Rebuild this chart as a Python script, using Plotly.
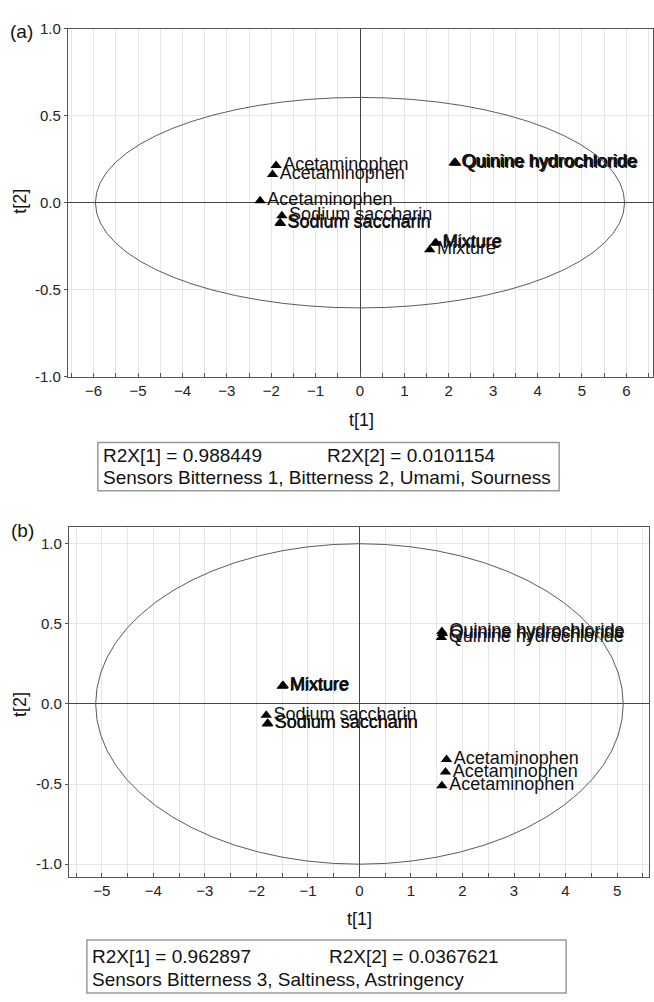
import plotly.graph_objects as go

# ---- score values, panel (a): sensors Bitterness 1, Bitterness 2, Umami, Sourness
a_names = ["Acetaminophen", "Acetaminophen", "Acetaminophen",
           "Sodium saccharin", "Sodium saccharin", "Sodium saccharin",
           "Quinine hydrochloride", "Quinine hydrochloride", "Quinine hydrochloride",
           "Mixture", "Mixture", "Mixture"]
a_t1 = [-1.89, -1.97, -2.25, -1.76, -1.80, -1.79, 2.12, 2.14, 2.16, 1.69, 1.71, 1.57]
a_t2 = [0.213, 0.162, 0.011, -0.075, -0.115, -0.120, 0.228, 0.232, 0.226, -0.234, -0.230, -0.270]

# ---- score values, panel (b): sensors Bitterness 3, Saltiness, Astringency
b_names = ["Acetaminophen", "Acetaminophen", "Acetaminophen",
           "Sodium saccharin", "Sodium saccharin", "Sodium saccharin",
           "Quinine hydrochloride", "Quinine hydrochloride", "Quinine hydrochloride",
           "Mixture", "Mixture", "Mixture"]
b_t1 = [1.69, 1.67, 1.60, -1.81, -1.78, -1.79, 1.60, 1.61, 1.59, -1.49, -1.48, -1.50]
b_t2 = [-0.347, -0.425, -0.511, -0.071, -0.121, -0.125, 0.452, 0.440, 0.415, 0.113, 0.116, 0.110]

# Hotelling T2 ellipse semi-axes (t[1], t[2])
a_ellipse = (5.96, 0.605)
b_ellipse = (5.12, 1.0)

# summary boxes
a_r2x = ["R2X[1] = 0.988449", "R2X[2] = 0.0101154"]
a_sensors = "Sensors Bitterness 1, Bitterness 2, Umami, Sourness"
b_r2x = ["R2X[1] = 0.962897", "R2X[2] = 0.0367621"]
b_sensors = "Sensors Bitterness 3, Saltiness, Astringency"

# tick labels
a_xticks = [-6, -5, -4, -3, -2, -1, 0, 1, 2, 3, 4, 5, 6]
b_xticks = [-5, -4, -3, -2, -1, 0, 1, 2, 3, 4, 5]
yticks = [-1.0, -0.5, 0.0, 0.5, 1.0]
ytick_text = ["-1.0", "-0.5", "0.0", "0.5", "1.0"]

W, H = 654, 1002
FONT = "Liberation Sans, Arial, sans-serif"


def px(x):
    return x / W


def py(y):
    return 1 - y / H


fig = go.Figure()

for xs, ys, names, xa, ya in [(a_t1, a_t2, a_names, "x", "y"),
                              (b_t1, b_t2, b_names, "x2", "y2")]:
    fig.add_trace(go.Scatter(
        x=xs, y=ys, text=names, mode="markers+text",
        textposition="middle right",
        marker=dict(symbol="triangle-up", size=10, color="black"),
        textfont=dict(family=FONT, size=18, color="#111"),
        xaxis=xa, yaxis=ya, showlegend=False, cliponaxis=False))

common_x = dict(
    showline=True, mirror=True, linecolor="#555", linewidth=1,
    ticks="inside", ticklen=4, tickcolor="#555", tickwidth=1,
    showgrid=True, gridcolor="#e6e6e6", gridwidth=1,
    zeroline=True, zerolinecolor="#444", zerolinewidth=1,
    minor=dict(dtick=0.5, ticks="inside", ticklen=4, tickcolor="#555",
               showgrid=True, gridcolor="#e6e6e6"),
    tickfont=dict(family=FONT, size=15, color="#222"),
)
common_y = dict(
    showline=True, mirror=True, linecolor="#555", linewidth=1,
    ticks="outside", ticklen=3, tickcolor="#555", tickwidth=1,
    showgrid=True, gridcolor="#e6e6e6", gridwidth=1,
    zeroline=True, zerolinecolor="#444", zerolinewidth=1,
    tickvals=yticks, ticktext=ytick_text,
    tickfont=dict(family=FONT, size=15, color="#222"),
)

fig.update_layout(
    width=W, height=H,
    margin=dict(l=0, r=0, t=0, b=0),
    paper_bgcolor="white", plot_bgcolor="white",
    xaxis=dict(domain=[px(68), 1.0], range=[-6.58, 6.6], anchor="y",
               tickvals=a_xticks, **common_x),
    yaxis=dict(domain=[py(374), py(20)], range=[-1.0, 1.0], anchor="x", **common_y),
    xaxis2=dict(domain=[px(69), px(650)], range=[-5.64, 5.62], anchor="y2",
                tickvals=b_xticks, **common_x),
    yaxis2=dict(domain=[py(883), py(527)], range=[-1.08, 1.104], anchor="x2", **common_y),
)

# confidence ellipses
for (ax, ay), (ea, eb) in [(("x", "y"), a_ellipse), (("x2", "y2"), b_ellipse)]:
    fig.add_shape(type="circle", xref=ax, yref=ay, x0=-ea, x1=ea, y0=-eb, y1=eb,
                  line=dict(color="#5a5a5a", width=1), layer="above")

# panel letters and axis titles
notes = [
    ("(a)", 22, 23, 0, 19), ("(b)", 23, 530, 0, 19),
    ("t[1]", 362, 418, 0, 18), ("t[1]", 360, 926, 0, 18),
    ("t[2]", 20, 195, -90, 18), ("t[2]", 20, 707, -90, 18),
]
for txt, x, y, ang, sz in notes:
    fig.add_annotation(text=txt, x=px(x), y=py(y), xref="paper", yref="paper",
                       showarrow=False, textangle=ang, xanchor="center", yanchor="middle",
                       font=dict(family=FONT, size=sz, color="#111"))

# summary boxes under each panel
boxes = [
    (a_r2x, a_sensors, 98, 560, 441, 490, 101, 325, 454, 477),
    (b_r2x, b_sensors, 87, 567, 947, 1001, 90, 327, 964, 987),
]
for r2x, sensors, x0, x1, y0, y1, tx, tx2, ty1, ty2 in boxes:
    fig.add_shape(type="rect", xref="paper", yref="paper",
                  x0=px(x0), x1=px(x1), y0=py(y1), y1=py(y0),
                  line=dict(color="#999", width=1.5), fillcolor="white")
    for txt, x, y in [(r2x[0], tx, ty1), (r2x[1], tx2, ty1), (sensors, tx, ty2)]:
        fig.add_annotation(text=txt, x=px(x), y=py(y), xref="paper", yref="paper",
                           showarrow=False, xanchor="left", yanchor="middle",
                           font=dict(family=FONT, size=19, color="#111"))

fig.write_html("out.html")
